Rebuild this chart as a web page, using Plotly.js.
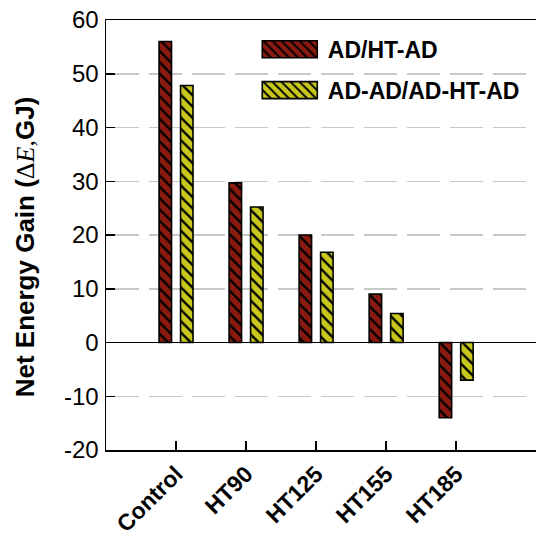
<!DOCTYPE html>
<html><head><meta charset="utf-8">
<script src="https://cdn.plot.ly/plotly-3.0.1.min.js"></script>
<style>html,body{margin:0;padding:0;background:#fff}#chart{width:536px;height:539px}</style>
</head><body><div id="chart"></div>
<script>
const categories = ["Control", "HT90", "HT125", "HT155", "HT185"];
const seriesNames = ["AD/HT-AD", "AD-AD/AD-HT-AD"];
const adHtAd = [56, 29.7, 20, 9, -14];
const adAdAdHtAd = [47.8, 25.2, 16.8, 5.4, -7];
const yTicks = [-20, -10, 0, 10, 20, 30, 40, 50, 60];

const FONT = "Liberation Sans, Arial, sans-serif";
function barTrace(name, vals, color, grp) {
  return {
    type: "bar", name: name, x: categories, y: vals, legendgroup: grp,
    marker: {
      color: color,
      line: {color: "#000", width: 1.6},
      pattern: {shape: "\\", fgcolor: "#000", bgcolor: color, size: 8, solidity: 0.3, fillmode: "replace"}
    },
    hoverinfo: "none"
  };
}
const data = [
  barTrace(seriesNames[0], adHtAd, "#8a1a10", "a"),
  barTrace(seriesNames[1], adAdAdHtAd, "#c8c81c", "b")
];
const layout = {
  width: 536, height: 539,
  margin: {l: 106, r: 0, t: 20, b: 89},
  paper_bgcolor: "#fff", plot_bgcolor: "#fff",
  barmode: "group", bargap: 0.386, bargroupgap: 0.42,
  font: {family: FONT, color: "#000"},
  showlegend: true,
  legend: {x: 0.339, y: 0.982, xanchor: "left", yanchor: "top", bgcolor: "rgba(0,0,0,0)",
    font: {family: FONT, size: 23, weight: "bold"}, itemwidth: 66, tracegroupgap: 8},
  xaxis: {
    type: "category", range: [-1, 5.14],
    showline: true, linecolor: "#000", linewidth: 1.5, mirror: true,
    ticks: "inside", ticklen: 9, tickwidth: 1.5, tickcolor: "#000",
    tickangle: -45, tickfont: {family: FONT, size: 23, weight: "bold"},
    showgrid: false, zeroline: false
  },
  yaxis: {
    range: [-20, 60], tickvals: yTicks, ticktext: yTicks.map(String),
    showline: true, linecolor: "#000", linewidth: 1.5,
    ticks: "inside", ticklen: 9, tickwidth: 1.5, tickcolor: "#000",
    tickfont: {family: FONT, size: 24}, ticklabelstandoff: 1,
    showgrid: true, gridcolor: "#c8c8c8", gridwidth: 1.5, griddash: "33px,10px",
    zeroline: true, zerolinecolor: "#000", zerolinewidth: 1.5,
    title: {text: "Net Energy Gain (<span style='font-family:Liberation Serif;font-weight:normal'>Δ<i>E</i>,</span>GJ)",
      font: {family: FONT, size: 26, weight: "bold"}, standoff: 22}
  }
};
Plotly.newPlot("chart", data, layout, {staticPlot: true}).then(function () {
  document.querySelectorAll("#chart .legend .legendpoints path").forEach(function (p) {
    p.setAttribute("d", "M27.5,8.5H-27.5V-8.5H27.5Z");
  });
  var yt = document.querySelector("#chart .ytitle");
  if (yt) {
    var tr = yt.getAttribute("transform") || "";
    yt.setAttribute("transform", "translate(0,12) " + tr);
  }
});
</script></body></html>
